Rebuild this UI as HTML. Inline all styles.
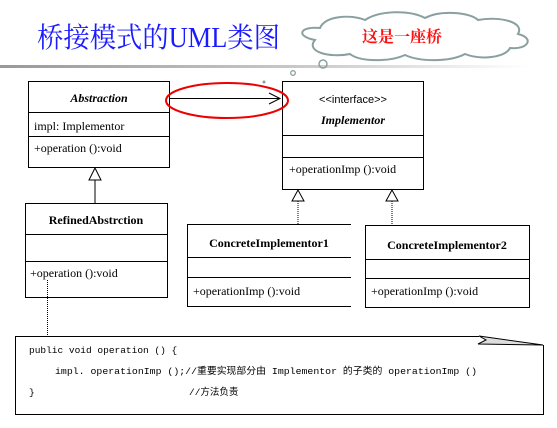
<!DOCTYPE html>
<html><head><meta charset="utf-8"><style>
body{margin:0;width:557px;height:423px;background:#fff;overflow:hidden}
</style></head><body>
<svg width="557" height="423" viewBox="0 0 557 423" xmlns="http://www.w3.org/2000/svg" style="font-family:'Liberation Serif','Noto Serif CJK SC',serif">
<defs><linearGradient id="g" x1="0" x2="1"><stop offset="0" stop-color="#999"/><stop offset="0.6" stop-color="#ccc"/><stop offset="1" stop-color="#fff"/></linearGradient></defs>
<text x="37" y="47" font-size="28" fill="#1a1aff" textLength="243" lengthAdjust="spacingAndGlyphs">桥接模式的UML类图</text>
<rect x="0" y="65" width="530" height="3" fill="url(#g)"/>
<path d="M315,40 C295,36 300,26 320,28 C325,16 350,14 365,20 C380,10 410,10 425,18 C440,10 470,12 478,20 C500,16 525,22 518,34 C535,38 528,50 510,48 C505,58 480,60 465,54 C450,62 420,62 405,55 C390,62 360,62 350,54 C330,58 305,52 315,40 Z" fill="#fff" stroke="#8aa0a0" stroke-width="2"/>
<text x="362" y="42" font-size="16" font-weight="bold" fill="#ff1010">这是一座桥</text>
<circle cx="323" cy="64" r="4" fill="none" stroke="#8aa0a0" stroke-width="1.5"/>
<circle cx="293" cy="73" r="2.3" fill="none" stroke="#8aa0a0" stroke-width="1.3"/>
<circle cx="264" cy="82" r="1.5" fill="#8aa0a0"/>
<g stroke="#000" stroke-width="1" fill="none">
<rect x="28.5" y="81.5" width="141" height="86"/>
<line x1="28" y1="112.5" x2="170" y2="112.5"/><line x1="28" y1="136.5" x2="170" y2="136.5"/>
<rect x="282.5" y="81.5" width="141" height="108"/>
<line x1="282" y1="135.5" x2="424" y2="135.5"/><line x1="282" y1="157.5" x2="424" y2="157.5"/>
<line x1="170" y1="98.5" x2="280" y2="98.5"/>
<polyline points="269,93 280,98.5 269,104"/>
<polygon points="95,168 89,180 101,180"/>
<line x1="95" y1="180" x2="95" y2="203"/>
<rect x="25.5" y="203.5" width="142" height="94"/>
<line x1="25" y1="234.5" x2="168" y2="234.5"/><line x1="25" y1="261.5" x2="168" y2="261.5"/>
<line x1="187.5" y1="224" x2="187.5" y2="306"/>
<line x1="187" y1="224.5" x2="351" y2="224.5"/><line x1="187" y1="257.5" x2="351" y2="257.5"/>
<line x1="187" y1="277.5" x2="351" y2="277.5"/><line x1="187" y1="306.5" x2="351" y2="306.5"/>
<polygon points="298,190 292,201 304,201"/>
<line x1="298" y1="201" x2="298" y2="224" stroke-dasharray="1,1"/>
<rect x="365.5" y="225.5" width="164" height="82"/>
<line x1="365" y1="259.5" x2="530" y2="259.5"/><line x1="365" y1="278.5" x2="530" y2="278.5"/>
<polygon points="392,190 386,201 398,201"/>
<line x1="392" y1="201" x2="392" y2="225" stroke-dasharray="1,1"/>
<polyline points="479,336.5 15.5,336.5 15.5,414.5 543.5,414.5 543.5,345"/>
<polygon points="479,336 486,340 478,344 543,345" fill="#ddd"/>
<line x1="47.5" y1="280" x2="47.5" y2="336" stroke-dasharray="1,1"/>
</g>
<g font-size="12" fill="#000">
<text x="99" y="102" text-anchor="middle" font-weight="bold" font-style="italic">Abstraction</text>
<text x="34" y="130">impl: Implementor</text>
<text x="34" y="152">+operation ():void</text>
<text x="353" y="103" text-anchor="middle" style="font-family:'Liberation Sans',sans-serif" font-size="11">&lt;&lt;interface&gt;&gt;</text>
<text x="353" y="124" text-anchor="middle" font-weight="bold" font-style="italic">Implementor</text>
<text x="289" y="173">+operationImp ():void</text>
<text x="96" y="224" text-anchor="middle" font-weight="bold">RefinedAbstrction</text>
<text x="30" y="277">+operation ():void</text>
<text x="269" y="247" text-anchor="middle" font-weight="bold">ConcreteImplementor1</text>
<text x="193" y="295">+operationImp ():void</text>
<text x="447" y="249" text-anchor="middle" font-weight="bold">ConcreteImplementor2</text>
<text x="371" y="295">+operationImp ():void</text>
</g>
<g font-size="9.5" fill="#000" style="font-family:'Liberation Mono','Noto Sans CJK SC',monospace">
<text x="29" y="353">public void operation () {</text>
<text x="55" y="374" textLength="422" lengthAdjust="spacingAndGlyphs">impl. operationImp ();//重要实现部分由 Implementor 的子类的 operationImp ()</text>
<text x="29" y="395">}</text>
<text x="189" y="395">//方法负责</text>
</g>
<ellipse cx="227" cy="100.5" rx="61" ry="17.5" fill="none" stroke="#e00" stroke-width="2"/>
</svg>
</body></html>
